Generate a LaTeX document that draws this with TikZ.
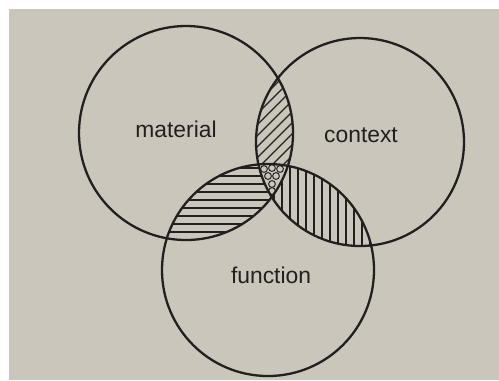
\documentclass[tikz,border=0pt]{standalone}
\usepackage{fontspec}
\usepackage{xcolor}
\usepackage{tikz}
\newfontfamily\setfont{Liberation Sans}
\definecolor{paper}{RGB}{202,198,188}
\definecolor{ink}{RGB}{34,32,30}
\def\matset{(186,133) circle [radius=107]}
\def\ctxset{(360,142) circle [radius=104]}
\def\funset{(268,270) circle [radius=106]}

\begin{document}
\begin{tikzpicture}[
  x=0.02cm,y=-0.02cm,
  ring/.style={draw=ink,line width=1.3pt},
  hatch/.style={draw=ink,line width=0.65pt},
  blob/.style={draw=ink,line width=0.55pt},
  setlabel/.style={font=\setfont\fontsize{13}{15}\selectfont,text=ink}
]
  \useasboundingbox (0,0) rectangle (499,380);
  \fill[white] (0,0) rectangle (499,380);
  \fill[paper] (9,9) rectangle (499,380);

  % material and context
  \begin{scope}
    \clip \matset; \clip \ctxset;
    \foreach \k in {100,111,...,460} \draw[hatch] (\k,260) -- (\k+200,60);
  \end{scope}
  % material and function
  \begin{scope}
    \clip \matset; \clip \funset;
    \foreach \y in {160,168,...,250} \draw[hatch] (150,\y) -- (300,\y);
  \end{scope}
  % context and function
  \begin{scope}
    \clip \ctxset; \clip \funset;
    \foreach \x in {250,258,...,380} \draw[hatch] (\x,150) -- (\x,260);
  \end{scope}
  % all three
  \begin{scope}
    \clip \matset; \clip \ctxset; \clip \funset;
    \fill[paper] (240,150) rectangle (300,210);
    \foreach \p in {(264,169),(272,168),(280,169),(268,176),(276,176),(272,184),(272,191)}
      \draw[blob] \p circle [radius=3.4];
  \end{scope}

  \draw[ring] \matset;
  \draw[ring] \ctxset;
  \draw[ring] \funset;

  \node[setlabel] (material) at (176,129) {material};
  \node[setlabel] (context) at (361,135) {context};
  \node[setlabel] (function) at (271,275) {function};
\end{tikzpicture}
\end{document}
